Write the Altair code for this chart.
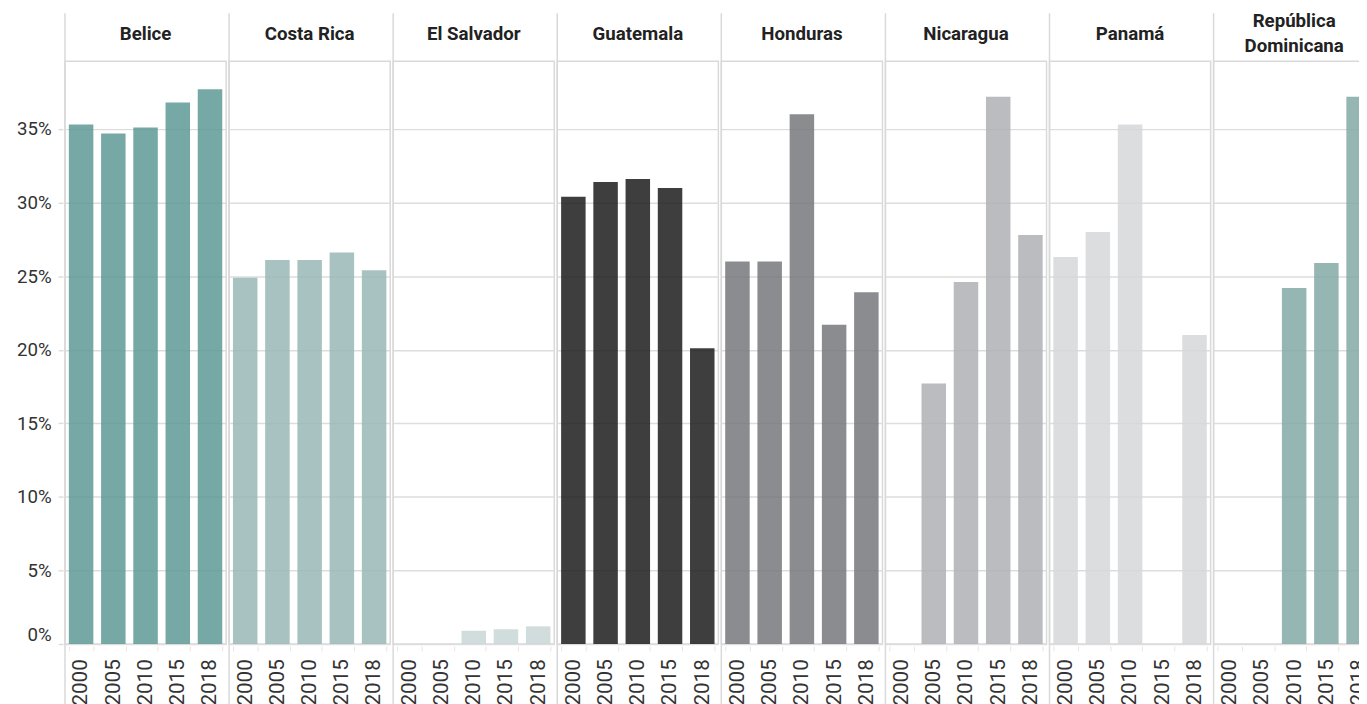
import altair as alt
import pandas as pd

countries = ["Belice", "Costa Rica", "El Salvador", "Guatemala", "Honduras",
             "Nicaragua", "Panamá", "República Dominicana"]
headers = ["Belice", "Costa Rica", "El Salvador", "Guatemala", "Honduras",
           "Nicaragua", "Panamá", "República\nDominicana"]
years = ["2000", "2005", "2010", "2015", "2018"]

belice = [35.3, 34.7, 35.1, 36.8, 37.7]
costa_rica = [24.9, 26.1, 26.1, 26.6, 25.4]
el_salvador = [None, None, 0.9, 1.0, 1.2]
guatemala = [30.4, 31.4, 31.6, 31.0, 20.1]
honduras = [26.0, 26.0, 36.0, 21.7, 23.9]
nicaragua = [None, 17.7, 24.6, 37.2, 27.8]
panama = [26.3, 28.0, 35.3, None, 21.0]
rep_dominicana = [None, None, 24.2, 25.9, 37.2]

series = [belice, costa_rica, el_salvador, guatemala, honduras,
          nicaragua, panama, rep_dominicana]

colors = ["#5e9a95", "#98b7b6", "#c8d7d6", "#1c1c1c", "#76787c",
          "#afb0b5", "#d6d7d9", "#82a9a6"]

rows = []
for c, h, vals in zip(countries, headers, series):
    for y, v in zip(years, vals):
        rows.append({"pais": c, "cabecera": h, "anio": y,
                     "valor": None if v is None else v / 100})
df = pd.DataFrame(rows)

W = 164
H = 593
EXT = 66
FONT = "Roboto"
LINE = "#d9d9d9"

bars = alt.Chart().mark_bar(opacity=0.85).encode(
    x=alt.X("anio:N", sort=years,
            scale=alt.Scale(domain=years, paddingInner=0.24, paddingOuter=0.12),
            axis=alt.Axis(title=None, labelAngle=-90, labelAlign="right",
                          labelBaseline="middle", labelFontSize=21,
                          labelColor="#333333", labelPadding=8,
                          tickBand="extent", tickSize=5, tickColor="#e6e6e6",
                          domain=False, labelFont=FONT, offset=-EXT)),
    y=alt.Y("valor:Q",
            scale=alt.Scale(domain=[0, 0.396], nice=False, zero=True),
            axis=alt.Axis(title=None, format=".0%",
                          values=[0, 0.05, 0.10, 0.15, 0.20, 0.25, 0.30, 0.35],
                          labelFontSize=19, labelColor="#333333", labelFont=FONT,
                          labelFlush=True,
                          tickSize=5, tickColor="#dddddd", tickWidth=1.5,
                          gridColor="#dddddd", gridWidth=1.5,
                          domain=False, labelPadding=7)),
    color=alt.Color("pais:N", scale=alt.Scale(domain=countries, range=colors),
                    legend=None),
)

sep = alt.Chart().mark_rule(color=LINE, strokeWidth=1.5).encode(
    x=alt.value(0), y=alt.value(-49), y2=alt.value(H + EXT)
).transform_filter(alt.datum.anio == "2000")

title_style = dict(font=FONT, fontSize=19, fontWeight="bold", color="#222222",
                   baseline="middle", align="center", lineBreak="\n",
                   lineHeight=25)

titles_one = alt.Chart().mark_text(**title_style).encode(
    x=alt.value(W / 2), y=alt.value(-28), text="cabecera:N"
).transform_filter(
    (alt.datum.anio == "2000") & (alt.datum.pais != "República Dominicana")
)

titles_two = alt.Chart().mark_text(dy=-12.5, **title_style).encode(
    x=alt.value(W / 2), y=alt.value(-28), text="cabecera:N"
).transform_filter(
    (alt.datum.anio == "2000") & (alt.datum.pais == "República Dominicana")
)

chart = alt.layer(bars, sep, titles_one, titles_two, data=df).properties(
    width=W, height=H
).facet(
    column=alt.Column("pais:N", sort=countries,
                      header=alt.Header(title=None, labels=False)),
    spacing=0,
).properties(
    padding={"left": 8, "top": -3, "right": -17, "bottom": 0}
).configure_view(
    stroke=LINE, strokeWidth=1.5
)

chart.save("out.html", embed_options={"renderer": "svg", "actions": False})
